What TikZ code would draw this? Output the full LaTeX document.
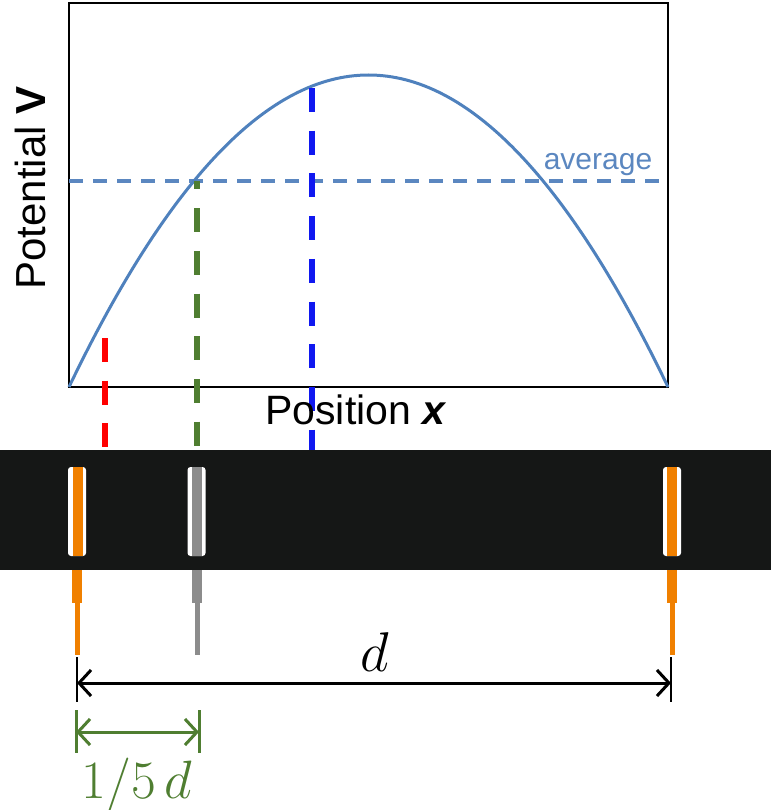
\RequirePackage{fix-cm}
\documentclass[tikz,border=0pt]{standalone}
\usepackage{fontspec}
\setmainfont{Liberation Sans}
\usetikzlibrary{arrows.meta}
\definecolor{curveblue}{RGB}{79,129,189}
\definecolor{avgblue}{RGB}{91,135,192}
\definecolor{barblack}{RGB}{21,23,22}
\definecolor{elorange}{RGB}{240,128,0}
\definecolor{elgray}{RGB}{140,140,140}
\definecolor{dimgreen}{RGB}{79,126,49}
\definecolor{markred}{RGB}{255,0,0}
\definecolor{markblue}{RGB}{16,24,240}
\tikzset{
  marker/.style={line width=5.5pt, dash pattern=on 24pt off 18.7pt},
  slot/.style={fill=white, rounded corners=3pt},
  dimline/.style={line width=3pt, {Straight Barb[length=12pt,width=26pt,line width=3pt]}-{Straight Barb[length=12pt,width=26pt,line width=3pt]}},
  tick/.style={line width=2pt},
}
\begin{document}
\begin{tikzpicture}[x=1pt,y=-1pt]
\useasboundingbox (0,0) rectangle (771,810);
% plot frame
\draw[line width=2pt] (69,3) rectangle (668,387);
\coordinate (L) at (69,387);
\coordinate (R) at (668,387);
\coordinate (A1) at (69,181);
\coordinate (A2) at (668,181);
% average line
\draw[avgblue, line width=3.5pt, dash pattern=on 14pt off 10pt] (A1) -- (A2);
\node[avgblue, font=\fontsize{30}{30}\selectfont, anchor=base] (avg) at (598,170) {average};
% curve (parabola as cubic)
\draw[curveblue, line width=3pt] (L) .. controls (268.67,-29) and (468.33,-29) .. (R);
% bar
\fill[barblack] (0,450) rectangle (771,570);
% markers
\coordinate (r1) at (105,338); \coordinate (r2) at (105,450);
\coordinate (g1) at (197,181); \coordinate (g2) at (197,450);
\coordinate (b1) at (312,88);  \coordinate (b2) at (312,450);
\draw[markred, marker] (r1) -- (r2);
\draw[dimgreen, marker, dash phase=15.5pt] (g1) -- (g2);
\draw[markblue, marker, line width=6pt] (b1) -- (b2);
% labels
\node[font=\fontsize{41}{41}\selectfont, anchor=base] (xlab) at (356,424) {Position \textbf{\textit{x}}};
\node[font=\fontsize{42}{42}\selectfont, rotate=90, anchor=base] (vlab) at (45,188) {Potential \textbf{V}};
% electrodes slots
\node[slot, minimum width=18pt, minimum height=89pt, inner sep=0pt] (s1) at (77,511.5) {};
\node[slot, minimum width=18pt, minimum height=89pt, inner sep=0pt] (s2) at (196.5,511.5) {};
\node[slot, minimum width=18pt, minimum height=89pt, inner sep=0pt] (s3) at (672,511.5) {};
\fill[elorange] (73,467) rectangle (82.5,556);
\fill[elgray] (192,467) rectangle (202,556);
\fill[elorange] (667,467) rectangle (677,556);
% leads
\fill[elorange] (72,570) rectangle (82,603);
\fill[elorange] (74.5,603) rectangle (80,655);
\fill[elgray] (192,570) rectangle (202,603);
\fill[elgray] (194.5,603) rectangle (200,655);
\fill[elorange] (667,570) rectangle (677,603);
\fill[elorange] (669.5,603) rectangle (674.5,655);
% dimension d
\coordinate (dL) at (77,683); \coordinate (dR) at (671,683);
\draw[tick] (77,657) -- (77,702);
\draw[tick] (671,657) -- (671,702);
\draw[dimline] (dL) -- (dR);
\node[font=\fontsize{56}{56}\selectfont, anchor=base] (dlab) at (375,671) {$d$};
% dimension 1/5 d
\coordinate (gL) at (76,732); \coordinate (gR) at (199,732);
\draw[tick, dimgreen, line width=3pt] (76,710) -- (76,753);
\draw[tick, dimgreen, line width=3pt] (199,710) -- (199,753);
\draw[dimline, dimgreen] (gL) -- (gR);
\node[dimgreen, font=\fontsize{54}{54}\selectfont, anchor=base] (glab) at (137,798) {$1/5\,d$};
\end{tikzpicture}
\end{document}
